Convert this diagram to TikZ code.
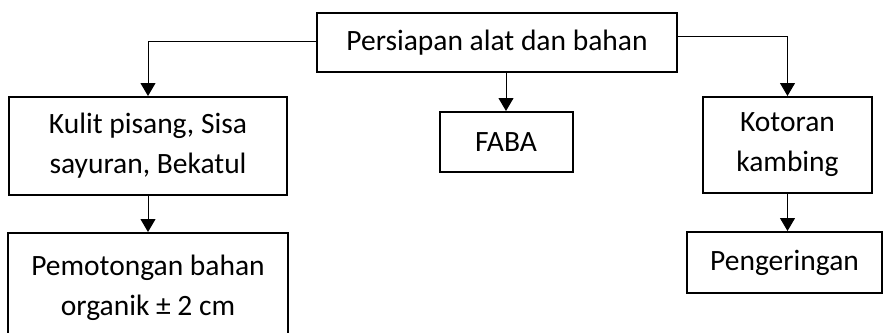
\documentclass[tikz,border=0pt]{standalone}
\usepackage{fontspec}
\setmainfont{Carlito}
\usetikzlibrary{arrows.meta}
\begin{document}
\begin{tikzpicture}[x=1pt,y=-1pt,
  box/.style={draw,line width=2pt,rectangle,inner sep=0pt,align=center,
    font=\fontsize{29.5}{40}\selectfont},
  arr/.style={line width=1pt,-{Triangle[width=15pt,length=13pt]}}]
\useasboundingbox (0,0) rectangle (883,332);
\node[box,minimum width=360pt,minimum height=59pt] (top) at (497,42.5) {Persiapan alat dan bahan};
\node[box,minimum width=278pt,minimum height=98pt] (kulit) at (148,146) {Kulit pisang, Sisa\\sayuran, Bekatul};
\node[box,minimum width=133pt,minimum height=60pt] (faba) at (506,142) {FABA};
\node[box,minimum width=169pt,minimum height=96pt] (kot) at (787.5,145) {Kotoran\\kambing};
\node[box,minimum width=280pt,minimum height=110pt] (pem) at (148,288) {Pemotongan bahan\\organik ± 2 cm};
\node[box,minimum width=195pt,minimum height=61pt] (peng) at (784.5,262.5) {Pengeringan};
\draw[arr] ([yshift=1.5pt]top.west) -| (kulit.north);
\draw[arr] ([yshift=6.5pt]top.east) -| (kot.north);
\draw[arr] (top.south -| faba.north) -- (faba.north);
\draw[arr] (kulit.south) -- (pem.north);
\draw[arr] (kot.south) -- (kot.south |- peng.north);
\end{tikzpicture}
\end{document}
